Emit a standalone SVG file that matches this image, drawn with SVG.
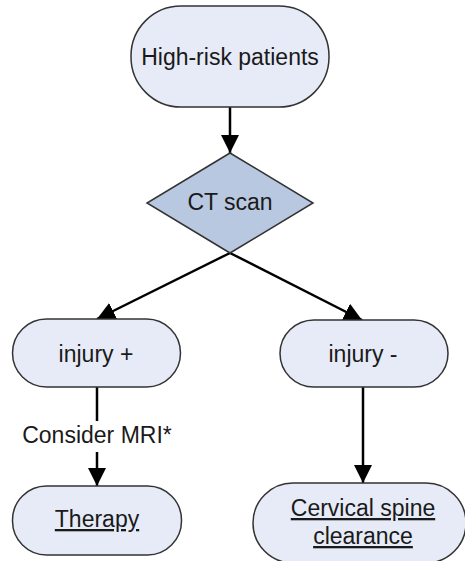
<svg xmlns="http://www.w3.org/2000/svg" width="465" height="561" viewBox="0 0 465 561">
<defs>
<style>
.node{fill:#e6ebf7;stroke:#333;stroke-width:1.5}
.dec{fill:#b8c8e0;stroke:#333;stroke-width:1.5}
.t{font-family:"Liberation Sans",Arial,sans-serif;font-size:23px;fill:#1a1a1a;text-anchor:middle}
.u{text-decoration:underline}
.c{stroke:#000;stroke-width:2.5;fill:none}
</style>
<marker id="ah" markerUnits="userSpaceOnUse" markerWidth="20" markerHeight="20" viewBox="0 0 20 20" refX="18" refY="10" orient="auto">
<path d="M0,1 L18,10 L0,19 Z" fill="#000"/>
</marker>
</defs>
<rect width="465" height="561" fill="#fff"/>
<g id="connectors">
<line class="c" x1="230" y1="107" x2="230" y2="153" marker-end="url(#ah)"/>
<line class="c" x1="230" y1="253" x2="97" y2="319" marker-end="url(#ah)"/>
<line class="c" x1="230" y1="253" x2="362" y2="320" marker-end="url(#ah)"/>
<line class="c" x1="97" y1="387" x2="97" y2="421"/>
<line class="c" x1="97" y1="452" x2="97" y2="486" marker-end="url(#ah)"/>
<line class="c" x1="363" y1="387" x2="363" y2="483" marker-end="url(#ah)"/>
<text class="t" x="97" y="443">Consider MRI*</text>
</g>
<g id="high-risk">
<rect class="node" x="131" y="6" width="198" height="101" rx="50" ry="50"/>
<text class="t" x="230" y="65">High-risk patients</text>
</g>
<g id="ct-scan">
<polygon class="dec" points="230,153 313,203 230,253 147,203"/>
<text class="t" x="230" y="210">CT scan</text>
</g>
<g id="injury-pos">
<rect class="node" x="12.5" y="319" width="168" height="68" rx="34" ry="34"/>
<text class="t" x="96" y="362">injury +</text>
</g>
<g id="injury-neg">
<rect class="node" x="280" y="320" width="168" height="67" rx="34" ry="34"/>
<text class="t" x="363" y="362">injury -</text>
</g>
<g id="therapy">
<rect class="node" x="12.5" y="486" width="169" height="69" rx="34" ry="34"/>
<text class="t u" x="97" y="527">Therapy</text>
</g>
<g id="clearance">
<rect class="node" x="253" y="483" width="213" height="80" rx="40" ry="40"/>
<text class="t u" x="363" y="516">Cervical spine</text>
<text class="t u" x="363" y="544">clearance</text>
</g>
</svg>
